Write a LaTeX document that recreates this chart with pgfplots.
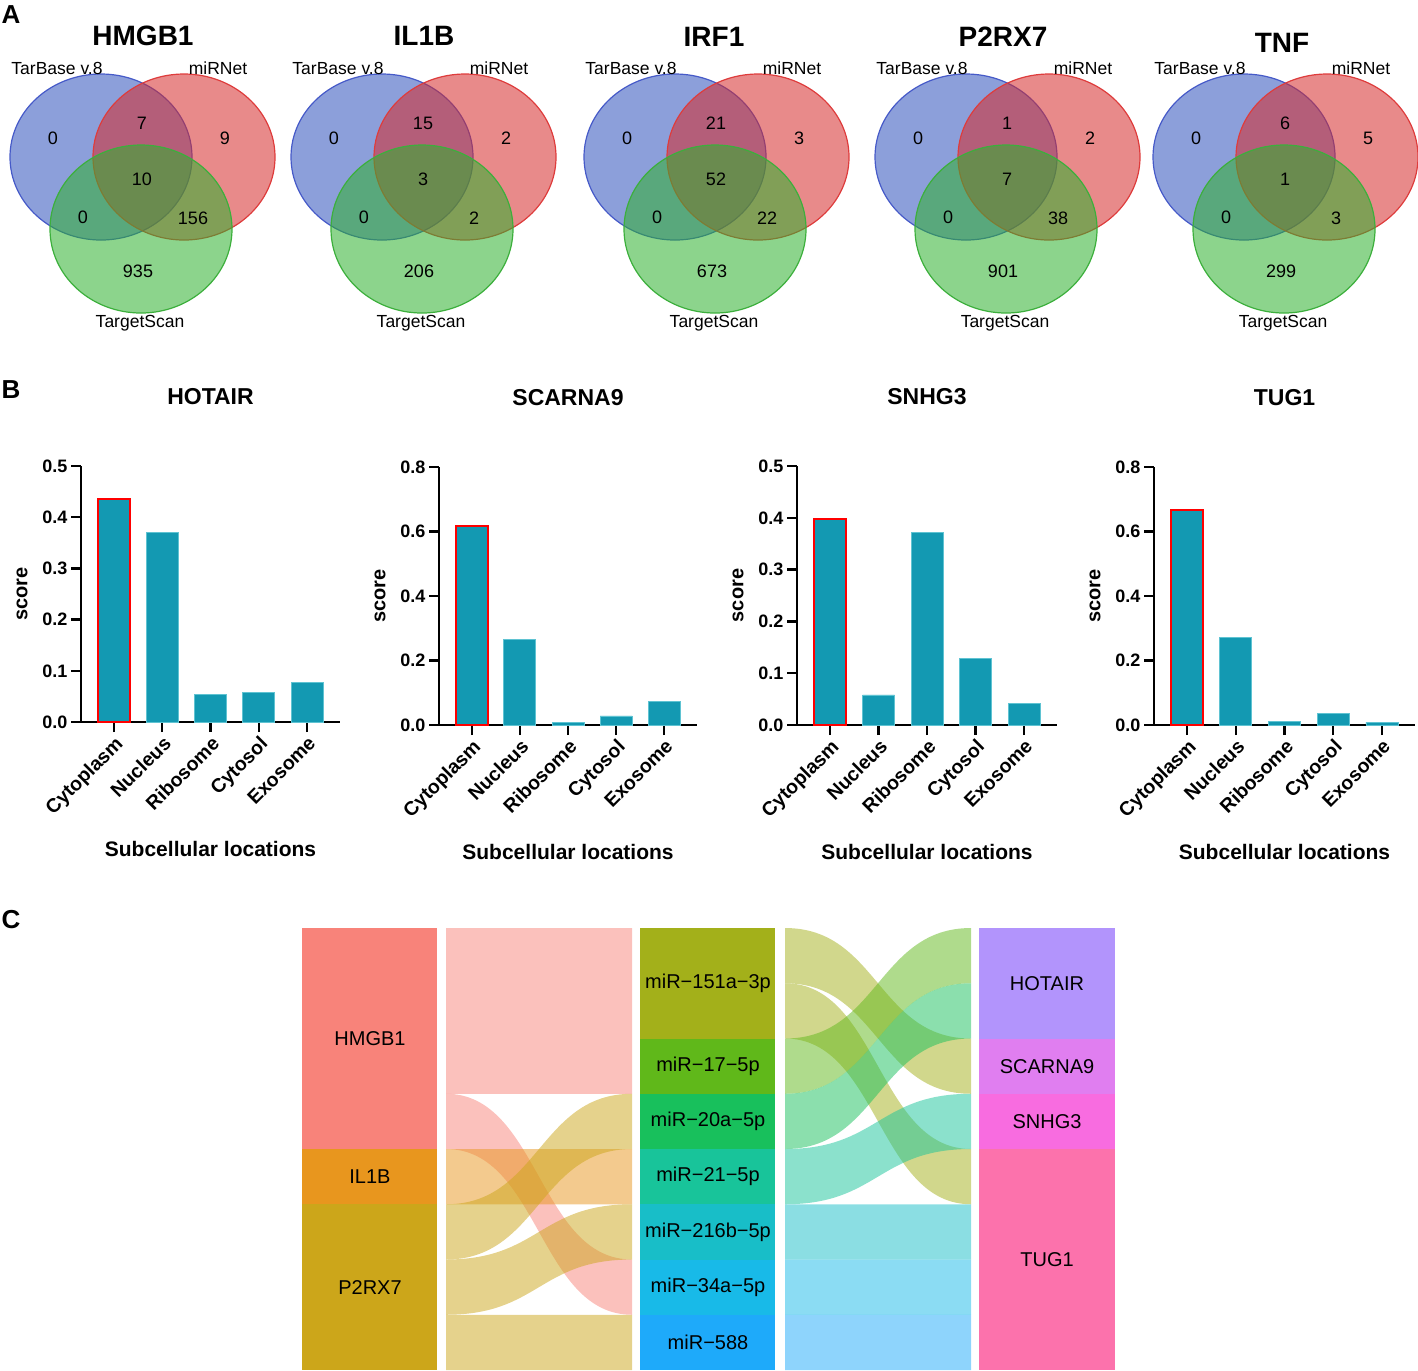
\documentclass[border=0pt]{standalone}
\usepackage{pgfplots}
\pgfplotsset{compat=1.18}
\usepackage{fontspec}
\setmainfont{Liberation Sans}

\definecolor{vblue}{RGB}{46,80,188}
\definecolor{vblueE}{RGB}{70,90,200}
\definecolor{vred}{RGB}{213,42,42}
\definecolor{vredE}{RGB}{222,60,60}
\definecolor{vgreen}{RGB}{46,177,46}
\definecolor{vgreenE}{RGB}{60,175,60}
\definecolor{barfill}{RGB}{19,153,178}
\definecolor{baredge}{RGB}{95,195,210}
% sankey nodes
\definecolor{cHMGB1}{RGB}{248,131,122}
\definecolor{cIL1B}{RGB}{232,150,30}
\definecolor{cP2RX7}{RGB}{204,166,26}
\definecolor{c151}{RGB}{163,176,26}
\definecolor{c17}{RGB}{96,184,26}
\definecolor{c20a}{RGB}{24,192,92}
\definecolor{c21}{RGB}{24,196,154}
\definecolor{c216}{RGB}{24,190,200}
\definecolor{c34}{RGB}{24,186,232}
\definecolor{c588}{RGB}{30,170,250}
\definecolor{cHOT}{RGB}{178,148,252}
\definecolor{cSCA}{RGB}{224,126,240}
\definecolor{cSNH}{RGB}{248,108,224}
\definecolor{cTUG}{RGB}{252,114,172}

\tikzset{
  vnum/.style={font=\fontsize{18}{18}\selectfont, inner sep=0pt},
  vlab/.style={font=\fontsize{17.5}{17.5}\selectfont, inner sep=0pt},
  vtitle/.style={font=\fontsize{28}{28}\selectfont\bfseries, inner sep=0pt},
  plab/.style={font=\fontsize{26}{26}\selectfont\bfseries, inner sep=0pt},
  snode/.style={font=\fontsize{20}{20}\selectfont, inner sep=0pt},
}

% shift, T, T&M, M, all, T&TS, M&TS, TS
\newcommand\venn[8]{%
  \filldraw[fill=vblue, fill opacity=.55, draw=vblueE, line width=1.2pt]
    (axis cs:#1+101,157) ellipse [x radius=91, y radius=83];
  \filldraw[fill=vred, fill opacity=.55, draw=vredE, line width=1.2pt]
    (axis cs:#1+184,157) ellipse [x radius=91, y radius=83];
  \filldraw[fill=vgreen, fill opacity=.55, draw=vgreenE, line width=1.2pt]
    (axis cs:#1+141,229) ellipse [x radius=91, y radius=84];
  \node[vnum] at (axis cs:#1+53,138) {#2};
  \node[vnum] at (axis cs:#1+142,123) {#3};
  \node[vnum] at (axis cs:#1+225,138) {#4};
  \node[vnum] at (axis cs:#1+142,179) {#5};
  \node[vnum] at (axis cs:#1+83,217) {#6};
  \node[vnum] at (axis cs:#1+193,218) {#7};
  \node[vnum] at (axis cs:#1+138,271) {#8};
  \node[vlab] at (axis cs:#1+57,68) {TarBase v.8};
  \node[vlab] at (axis cs:#1+218,68) {miRNet};
  \node[vlab] at (axis cs:#1+140,323) {TargetScan};
}

% color, x0, x1, xmid, y0 bottom, y0 top, y1 bottom, y1 top
\newcommand\flow[8]{%
  \fill[#1, fill opacity=0.5] (axis cs:#2,#6) .. controls (axis cs:#4,#6) and (axis cs:#4,#8) ..
    (axis cs:#3,#8) -- (axis cs:#3,#7) .. controls (axis cs:#4,#7) and (axis cs:#4,#5) ..
    (axis cs:#2,#5) -- cycle;
}

\pgfplotsset{
  bars/.style={
    scale only axis, ybar, bar shift=0pt, bar width=32pt,
    xmin=-0.68, xmax=4.68, ymin=0,
    axis x line*=bottom, axis y line*=left,
    axis line style={line width=2.6pt, -},
    every tick/.style={black, line width=2.4pt},
    tick align=outside, major tick length=10pt,
    xtick={0,1,2,3,4},
    xticklabels={Cytoplasm,Nucleus,Ribosome,Cytosol,Exosome},
    xticklabel style={rotate=45, anchor=north east, font=\fontsize{19.5}{19.5}\selectfont\bfseries, inner sep=2pt},
    yticklabel style={font=\fontsize{18}{18}\selectfont\bfseries,
      /pgf/number format/.cd, fixed, fixed zerofill, precision=1, assume math mode=true},
    scaled y ticks=false,
    ylabel={score}, xlabel={Subcellular locations},
    ylabel style={font=\fontsize{20}{20}\selectfont\bfseries,
      at={(axis description cs:0,0.5)}, anchor=center, yshift=59pt},
    xlabel style={font=\fontsize{21}{21}\selectfont\bfseries,
      at={(axis description cs:0.5,0)}, anchor=center, yshift=-126.5pt},
    title style={font=\fontsize{23}{23}\selectfont\bfseries, at={(0.5,1)}, anchor=base, yshift=56pt, inner sep=0pt},
  },
  others/.style={fill=barfill, draw=baredge, line width=0.8pt},
  first/.style={fill=barfill, draw=red, line width=2.2pt},
}

\begin{document}
\begin{tikzpicture}
\useasboundingbox (0,0) rectangle (1418pt,-1370pt);

% ---------- panel A (canvas in pixel units) ----------
\begin{axis}[at={(0pt,0pt)}, anchor=north west, scale only axis,
  width=1418pt, height=1370pt, xmin=0, xmax=1418, ymin=0, ymax=1370,
  y dir=reverse, hide axis, clip=false]
  \venn{0}{0}{7}{9}{10}{0}{156}{935}
  \venn{281}{0}{15}{2}{3}{0}{2}{206}
  \venn{574}{0}{21}{3}{52}{0}{22}{673}
  \venn{865}{0}{1}{2}{7}{0}{38}{901}
  \venn{1143}{0}{6}{5}{1}{0}{3}{299}
  \node[vtitle] at (axis cs:143,36) {HMGB1};
  \node[vtitle] at (axis cs:424,36) {IL1B};
  \node[vtitle] at (axis cs:714,37) {IRF1};
  \node[vtitle] at (axis cs:1003,37) {P2RX7};
  \node[vtitle] at (axis cs:1282,43) {TNF};
  \node[plab] at (axis cs:11,15) {A};
  \node[plab] at (axis cs:11,390) {B};
  \node[plab] at (axis cs:11,920) {C};
\end{axis}

% ---------- panel B ----------
\begin{axis}[bars, at={(81pt,-722pt)}, anchor=south west, width=259pt, height=256pt,
  ymax=0.5, ytick={0,0.1,0.2,0.3,0.4,0.5}, title={HOTAIR}]
  \addplot[others] coordinates {(1,0.370) (2,0.053) (3,0.057) (4,0.077)};
  \addplot[first] coordinates {(0,0.435)};
\end{axis}

\begin{axis}[bars, at={(439pt,-725pt)}, anchor=south west, width=258pt, height=258pt,
  ymax=0.8, ytick={0,0.2,0.4,0.6,0.8}, title={SCARNA9}]
  \addplot[others] coordinates {(1,0.266) (2,0.008) (3,0.028) (4,0.074)};
  \addplot[first] coordinates {(0,0.618)};
\end{axis}

\begin{axis}[bars, at={(797pt,-725pt)}, anchor=south west, width=260pt, height=259pt,
  ymax=0.5, ytick={0,0.1,0.2,0.3,0.4,0.5}, title={SNHG3}]
  \addplot[others] coordinates {(1,0.058) (2,0.371) (3,0.129) (4,0.041)};
  \addplot[first] coordinates {(0,0.397)};
\end{axis}

\begin{axis}[bars, at={(1154pt,-725pt)}, anchor=south west, width=261pt, height=258pt,
  ymax=0.8, ytick={0,0.2,0.4,0.6,0.8}, title={TUG1}]
  \addplot[others] coordinates {(1,0.272) (2,0.012) (3,0.036) (4,0.008)};
  \addplot[first] coordinates {(0,0.667)};
\end{axis}

% ---------- panel C ----------
\begin{axis}[at={(302pt,-1370pt)}, anchor=south west, scale only axis,
  width=813pt, height=442pt, xmin=302, xmax=1115, ymin=0, ymax=8,
  hide axis, clip=false]
  % flows gene -> miRNA
  \flow{cHMGB1}{446}{632}{539}{5}{8}{5}{8}
  \flow{cHMGB1}{446}{632}{539}{4}{5}{1}{2}
  \flow{cIL1B}{446}{632}{539}{3}{4}{3}{4}
  \flow{cP2RX7}{446}{632}{539}{2}{3}{4}{5}
  \flow{cP2RX7}{446}{632}{539}{1}{2}{2}{3}
  \flow{cP2RX7}{446}{632}{539}{0}{1}{0}{1}
  % flows miRNA -> lncRNA
  \flow{c151}{785}{971}{878}{7}{8}{5}{6}
  \flow{c151}{785}{971}{878}{6}{7}{3}{4}
  \flow{c17}{785}{971}{878}{5}{6}{7}{8}
  \flow{c20a}{785}{971}{878}{4}{5}{6}{7}
  \flow{c21}{785}{971}{878}{3}{4}{4}{5}
  \flow{c216}{785}{971}{878}{2}{3}{2}{3}
  \flow{c34}{785}{971}{878}{1}{2}{1}{2}
  \flow{c588}{785}{971}{878}{0}{1}{0}{1}
  % gene nodes
  \fill[cHMGB1] (axis cs:302,4) rectangle (axis cs:437,8);
  \fill[cIL1B] (axis cs:302,3) rectangle (axis cs:437,4);
  \fill[cP2RX7] (axis cs:302,0) rectangle (axis cs:437,3);
  % miRNA nodes
  \fill[c151] (axis cs:640,6) rectangle (axis cs:775,8);
  \fill[c17] (axis cs:640,5) rectangle (axis cs:775,6);
  \fill[c20a] (axis cs:640,4) rectangle (axis cs:775,5);
  \fill[c21] (axis cs:640,3) rectangle (axis cs:775,4);
  \fill[c216] (axis cs:640,2) rectangle (axis cs:775,3);
  \fill[c34] (axis cs:640,1) rectangle (axis cs:775,2);
  \fill[c588] (axis cs:640,0) rectangle (axis cs:775,1);
  % lncRNA nodes
  \fill[cHOT] (axis cs:979,6) rectangle (axis cs:1115,8);
  \fill[cSCA] (axis cs:979,5) rectangle (axis cs:1115,6);
  \fill[cSNH] (axis cs:979,4) rectangle (axis cs:1115,5);
  \fill[cTUG] (axis cs:979,0) rectangle (axis cs:1115,4);
  % labels
  \node[snode] at (axis cs:370,6) {HMGB1};
  \node[snode] at (axis cs:370,3.5) {IL1B};
  \node[snode] at (axis cs:370,1.5) {P2RX7};
  \node[snode] at (axis cs:708,7) {miR−151a−3p};
  \node[snode] at (axis cs:708,5.5) {miR−17−5p};
  \node[snode] at (axis cs:708,4.5) {miR−20a−5p};
  \node[snode] at (axis cs:708,3.5) {miR−21−5p};
  \node[snode] at (axis cs:708,2.5) {miR−216b−5p};
  \node[snode] at (axis cs:708,1.5) {miR−34a−5p};
  \node[snode] at (axis cs:708,0.5) {miR−588};
  \node[snode] at (axis cs:1047,7) {HOTAIR};
  \node[snode] at (axis cs:1047,5.5) {SCARNA9};
  \node[snode] at (axis cs:1047,4.5) {SNHG3};
  \node[snode] at (axis cs:1047,2) {TUG1};
\end{axis}
\end{tikzpicture}
\end{document}
